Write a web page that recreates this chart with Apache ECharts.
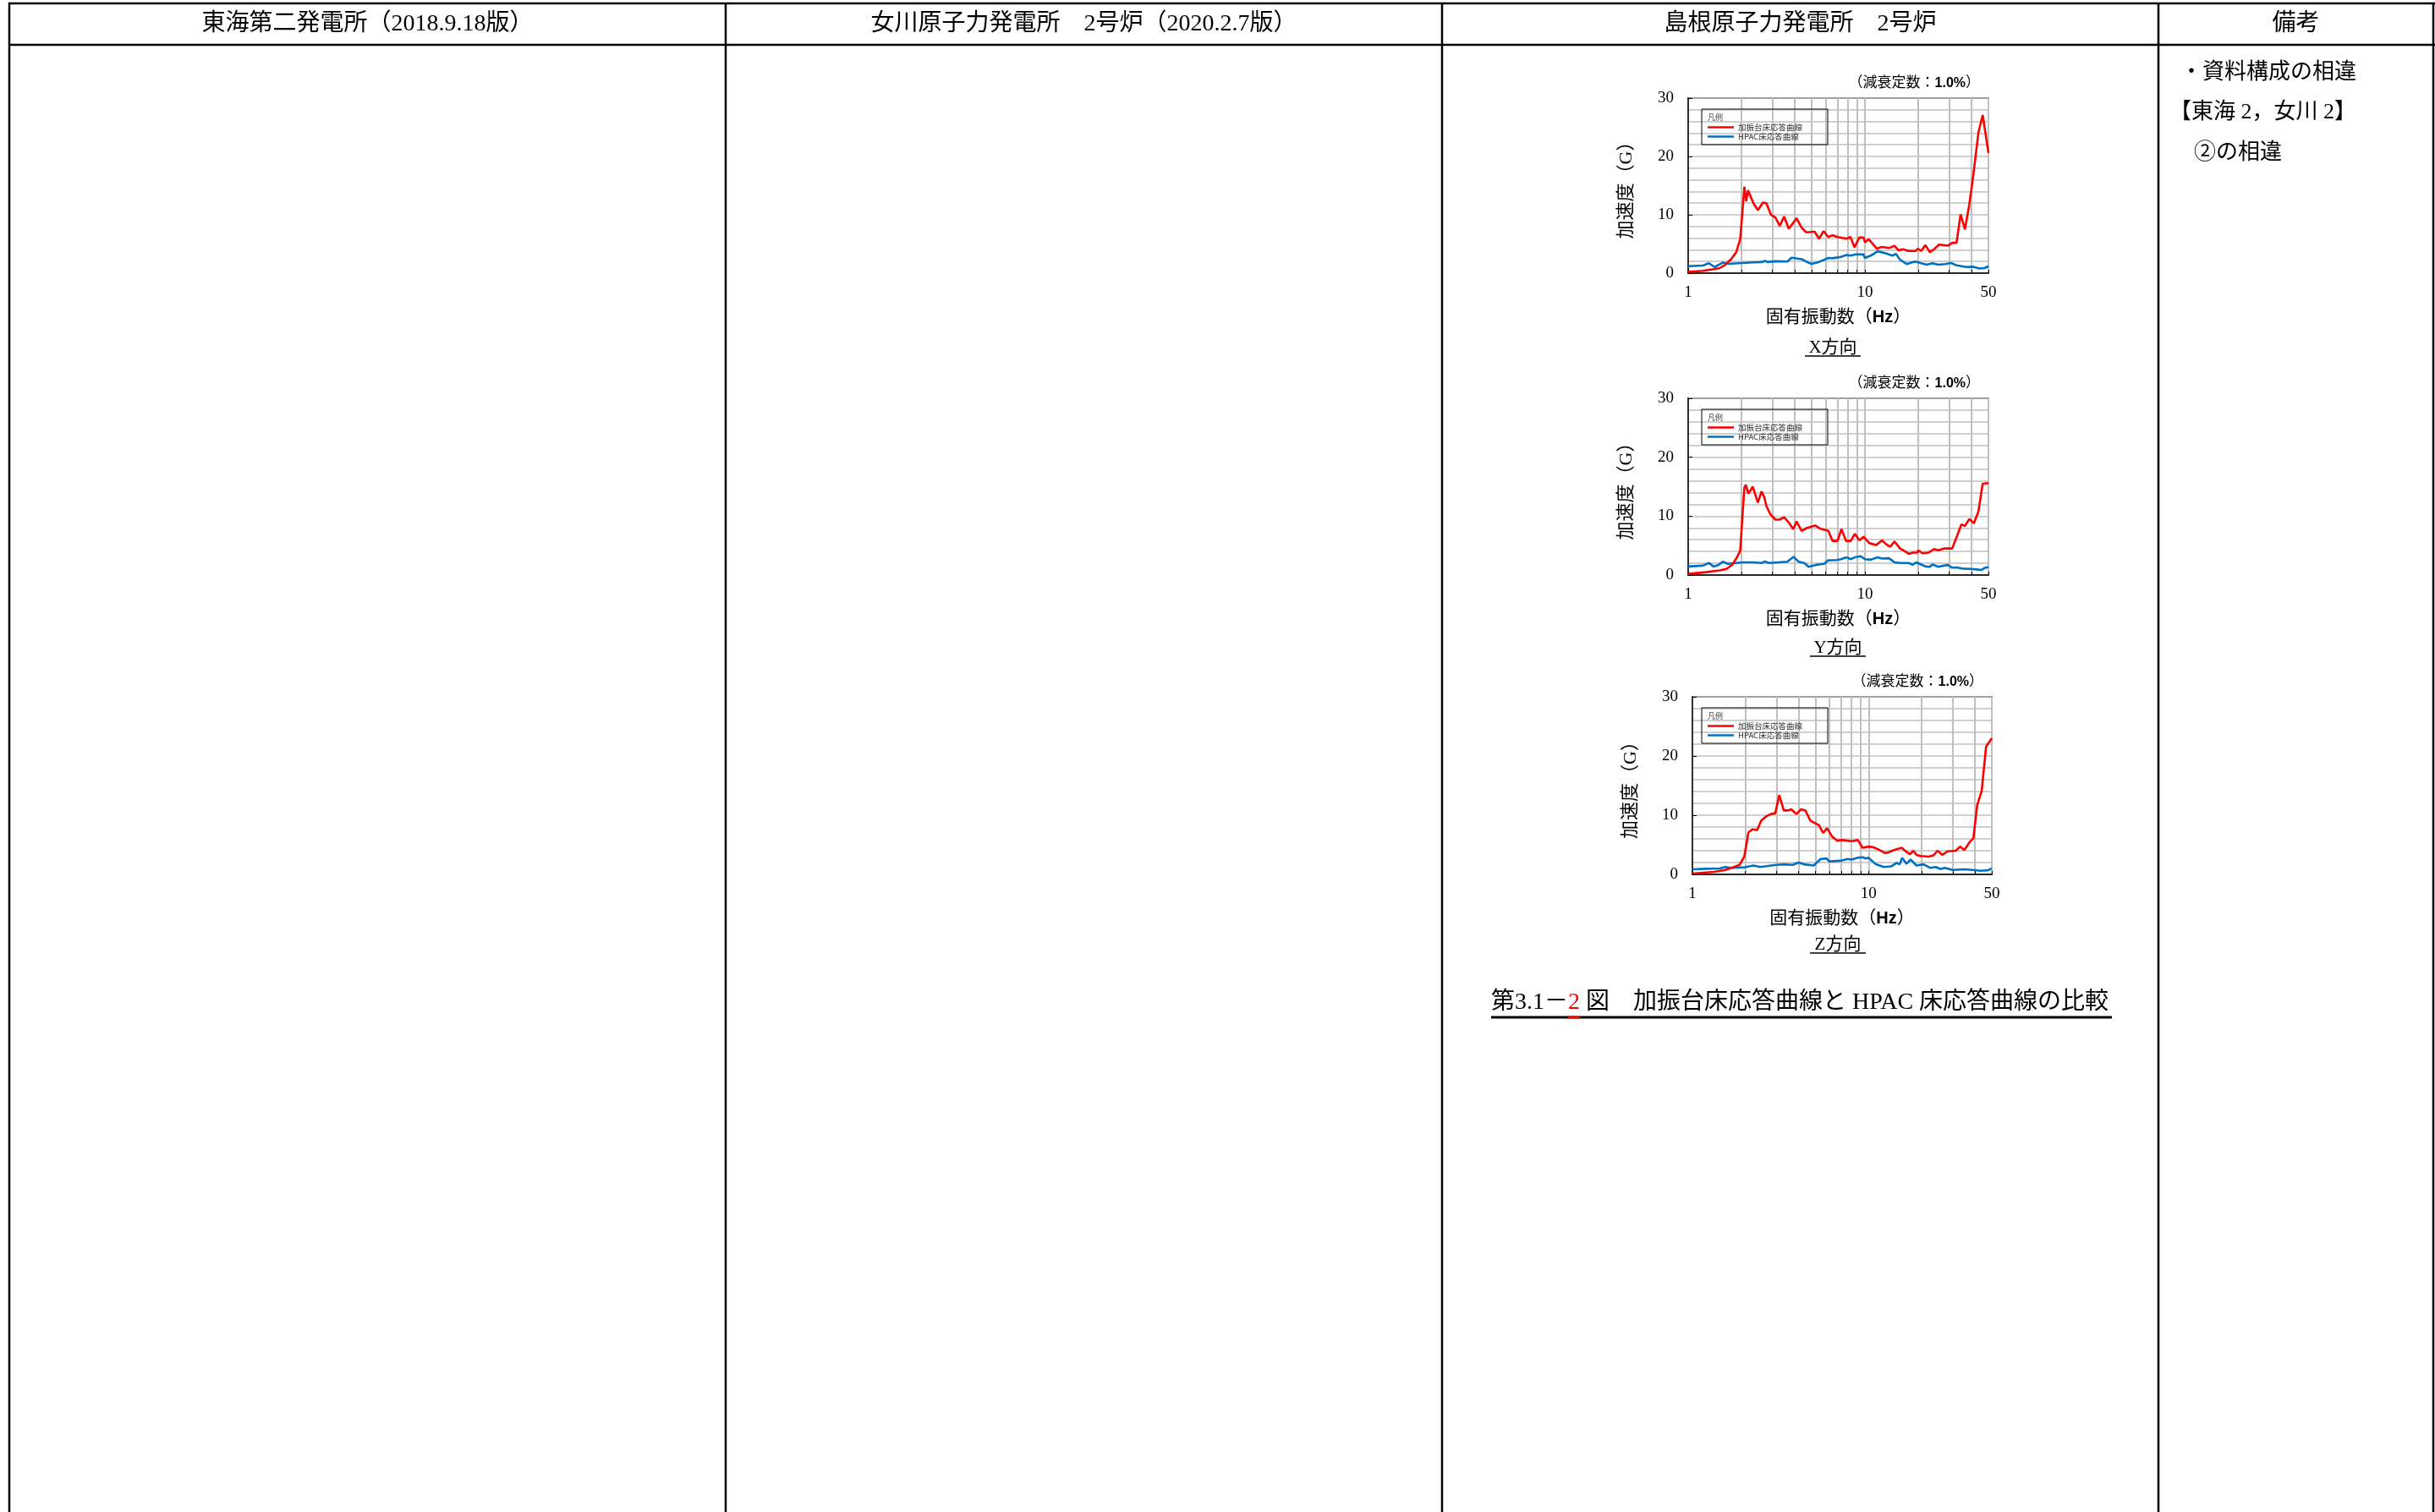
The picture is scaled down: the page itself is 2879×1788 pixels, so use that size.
<!DOCTYPE html>
<html>
<head>
<meta charset="utf-8">
<title>加振台床応答曲線とHPAC床応答曲線の比較</title>
<script src="https://cdn.jsdelivr.net/npm/echarts@6.0.0/dist/echarts.min.js"></script>
<style>
html, body { margin: 0; padding: 0; background: #fff; }
#main { width: 2879px; height: 1788px; }
</style>
</head>
<body>
<div id="main"></div>
<script>
// X方向
let xRedHz = [1, 1.21, 1.40, 1.51, 1.62, 1.75, 1.87, 1.97, 2.08, 2.13, 2.18, 2.34, 2.48, 2.65, 2.77, 2.94, 3.12, 3.30, 3.49, 3.71, 4.11, 4.38, 4.66, 5.20, 5.50, 5.83, 6.21, 6.56, 7.0, 7.88, 8.29, 8.73, 9.29, 9.82, 10, 10.5, 11.7, 12.5, 13.7, 14.7, 15.5, 16.4, 17.7, 19.4, 19.9, 20.8, 22.0, 23.3, 24.6, 26.3, 29.5, 31.2, 33.0, 34.8, 36.8, 38.9, 41.1, 43.9, 46.4, 50]
let xRedG = [0.2, 0.4, 0.7, 0.87, 1.44, 2.4, 3.6, 5.8, 14.8, 12.3, 14.2, 12.0, 10.8, 12.1, 12.0, 10.0, 9.5, 8.1, 9.7, 7.6, 9.4, 7.8, 7.0, 7.1, 5.9, 7.2, 6.2, 6.5, 6.2, 5.9, 6.2, 4.4, 6.1, 6.1, 5.3, 5.8, 4.2, 4.5, 4.3, 4.7, 3.9, 4.1, 3.8, 3.8, 4.2, 3.8, 4.8, 3.6, 4.1, 4.9, 4.7, 5.2, 5.2, 10.1, 7.5, 11.6, 16.9, 24.1, 27.1, 20.6]
let xBlueHz = [1, 1.21, 1.31, 1.41, 1.57, 1.68, 2.02, 2.34, 2.62, 2.71, 2.82, 3.14, 3.64, 3.85, 4.38, 4.71, 4.98, 5.36, 5.83, 6.21, 6.56, 7.32, 7.88, 8.31, 8.78, 9.82, 10, 10.8, 11.8, 13.1, 14.3, 15.0, 15.8, 17.3, 18.3, 19.3, 20.8, 22.4, 24.1, 26.0, 28.5, 30.7, 33.0, 37.5, 41.1, 44.3, 47.6, 50]
let xBlueG = [1.2, 1.3, 1.7, 1.05, 1.8, 1.6, 1.75, 1.85, 1.9, 2.1, 1.9, 2.05, 2.0, 2.65, 2.4, 1.9, 1.6, 1.8, 2.25, 2.6, 2.55, 2.8, 3.1, 3.0, 3.2, 3.2, 2.6, 3.0, 3.75, 3.4, 3.0, 3.3, 2.3, 1.55, 1.8, 2.0, 1.7, 1.45, 1.7, 1.45, 1.55, 1.75, 1.35, 1.05, 1.1, 0.8, 0.87, 1.2]

// Y方向
let yRedHz = [1, 1.26, 1.51, 1.65, 1.78, 1.88, 1.97, 2.02, 2.08, 2.12, 2.19, 2.32, 2.48, 2.60, 2.69, 2.77, 2.92, 3.12, 3.28, 3.49, 3.71, 3.93, 4.11, 4.38, 4.71, 5.22, 5.56, 6.21, 6.56, 7.0, 7.37, 7.82, 8.31, 8.78, 9.29, 9.82, 10.6, 11.6, 12.5, 13.1, 13.9, 14.7, 15.8, 16.7, 17.7, 18.7, 19.8, 20.0, 21.2, 22.9, 24.6, 26.0, 28.0, 31.2, 35.2, 36.8, 38.9, 41.4, 43.9, 46.4, 50]
let yRedG = [0.2, 0.48, 0.8, 1.05, 1.8, 2.9, 4.1, 9.3, 14.8, 15.3, 13.8, 15.0, 12.3, 14.2, 13.3, 11.7, 10.3, 9.4, 9.4, 9.8, 8.9, 7.8, 9.1, 7.5, 8.0, 8.4, 7.9, 7.5, 5.8, 5.8, 7.8, 5.8, 5.8, 7.0, 5.9, 6.5, 5.4, 5.1, 5.9, 5.3, 4.8, 5.7, 4.5, 4.1, 3.6, 3.8, 3.8, 4.2, 3.7, 3.8, 4.4, 4.2, 4.5, 4.5, 8.6, 8.3, 9.5, 8.8, 10.8, 15.5, 15.6]
let yBlueHz = [1, 1.21, 1.31, 1.39, 1.48, 1.57, 1.68, 2.02, 2.34, 2.62, 2.71, 2.87, 3.64, 3.95, 4.22, 4.54, 4.80, 5.36, 5.87, 6.21, 6.92, 7.32, 7.88, 8.31, 8.78, 9.46, 10, 10.8, 11.8, 12.5, 13.7, 14.7, 15.8, 17.7, 18.6, 19.5, 20.8, 22.0, 23.3, 24.1, 26.0, 28.0, 29.5, 31.2, 33.0, 35.5, 39.5, 42.8, 45.6, 47.6, 50]
let yBlueG = [1.45, 1.6, 2.05, 1.45, 1.7, 2.25, 1.9, 2.15, 2.15, 2.05, 2.3, 2.05, 2.25, 3.1, 2.25, 2.05, 1.4, 1.75, 1.9, 2.5, 2.55, 2.7, 3.0, 2.7, 3.0, 3.2, 2.7, 2.6, 3.0, 2.8, 2.85, 2.15, 2.05, 2.05, 1.75, 2.15, 1.8, 1.45, 1.4, 1.8, 1.4, 1.6, 1.7, 1.25, 1.3, 1.1, 1.05, 0.95, 0.85, 1.2, 1.35]

// Z方向
let zRedHz = [1, 1.33, 1.54, 1.72, 1.85, 1.97, 2.08, 2.19, 2.33, 2.46, 2.62, 2.79, 2.95, 3.11, 3.30, 3.49, 3.64, 3.89, 4.14, 4.38, 4.66, 4.94, 5.22, 5.52, 5.81, 6.2, 6.62, 7.06, 8.02, 8.69, 9.22, 10, 10.6, 11.4, 12.4, 12.9, 13.9, 15.4, 16.4, 17.2, 17.9, 18.7, 19.7, 22.0, 23.3, 24.6, 26.2, 28.0, 31.2, 33.0, 34.9, 37.3, 39.3, 41.3, 43.8, 46.4, 50]
let zRedG = [0.15, 0.43, 0.76, 1.24, 1.6, 3.0, 7.1, 7.6, 7.5, 9.1, 9.8, 10.2, 10.3, 13.4, 10.8, 10.8, 11.0, 10.2, 11.0, 10.8, 9.1, 8.7, 8.3, 7.0, 7.8, 6.4, 5.7, 5.8, 5.6, 5.8, 4.5, 4.7, 4.6, 4.2, 3.6, 3.7, 4.1, 4.5, 3.8, 3.4, 4.0, 3.3, 3.1, 3.0, 3.2, 4.0, 3.3, 3.9, 4.0, 4.7, 4.1, 5.4, 6.1, 11.7, 14.1, 21.6, 23.0]
let zBlueHz = [1, 1.19, 1.43, 1.54, 1.65, 1.99, 2.22, 2.43, 2.98, 3.32, 3.71, 4.0, 4.30, 4.88, 5.35, 5.77, 5.98, 6.93, 7.6, 8.02, 8.6, 9.28, 9.55, 10, 11.0, 12.2, 13.4, 14.4, 15.0, 15.5, 16.4, 17.3, 18.7, 20.5, 22.4, 24.1, 25.5, 27.0, 30.0, 34.9, 38.9, 43.3, 47.5, 50]
let zBlueG = [0.85, 0.95, 1.0, 1.25, 1.1, 1.2, 1.5, 1.25, 1.6, 1.7, 1.6, 2.0, 1.7, 1.5, 2.6, 2.7, 2.2, 2.3, 2.6, 2.5, 2.8, 2.9, 2.7, 2.8, 1.7, 1.25, 1.35, 1.95, 1.7, 2.8, 1.8, 2.5, 1.5, 1.7, 1.1, 1.25, 0.9, 1.1, 0.75, 0.85, 0.75, 0.6, 0.7, 1.0]

let xTickHz = [1, 2, 3, 4, 5, 6, 7, 8, 9, 10, 20, 30, 40, 50]
let xLabelHz = [1, 10, 50]
let seriesNames = ['加振台床応答曲線', 'HPAC床応答曲線']
let directions = ['X方向', 'Y方向', 'Z方向']
let headers = ['東海第二発電所（2018.9.18版）', '女川原子力発電所　2号炉（2020.2.7版）', '島根原子力発電所　2号炉', '備考']
let remarks = ['・資料構成の相違', '【東海 2，女川 2】', '②の相違']
let captionParts = ['第3.1－', '2', ' 図　加振台床応答曲線と HPAC 床応答曲線の比較']

const serif = '"Liberation Serif", "Noto Sans CJK JP"'
const jp = '"Noto Sans CJK JP"'
const gridColor = '#c0c0c0'

// 各グラフの配置
let grids = [
    {left: 1996, top: 116, width: 355, height: 207},
    {left: 1996, top: 471, width: 355, height: 209},
    {left: 2001, top: 824, width: 354, height: 210}
]
let dirPos = [[2167, 411], [2173, 766], [2173, 1117]]

function pairs(hz, g) {
    return hz.map(function (v, i) { return [v, g[i]] })
}

function measure(s, size, family) {
    let ctx = document.createElement('canvas').getContext('2d')
    ctx.font = size + 'px ' + family
    return ctx.measureText(s).width
}

function xAxisAt(i) {
    return {
        type: 'log', logBase: 10, gridIndex: i, min: 1, max: 50,
        name: '固有振動数（{b|Hz}）', nameLocation: 'middle', nameGap: 42,
        nameTextStyle: {
            fontSize: 21, fontFamily: serif, color: '#000',
            rich: {b: {fontSize: 20, fontFamily: '"Liberation Sans"', fontWeight: 'bold', color: '#000'}}
        },
        axisLine: {lineStyle: {color: '#000', width: 1.5}},
        axisTick: {show: true, inside: true, length: 4, customValues: xTickHz, lineStyle: {color: '#000'}},
        axisLabel: {customValues: xLabelHz, fontSize: 19, fontFamily: serif, color: '#000', margin: 14},
        splitLine: {show: true, lineStyle: {color: gridColor, width: 2}},
        minorTick: {show: false}
    }
}

function yAxisAt(i) {
    return {
        type: 'value', gridIndex: i, min: 0, max: 30, interval: 10,
        name: '加速度（G）', nameLocation: 'middle', nameGap: 62,
        nameTextStyle: {fontSize: 22, fontFamily: serif, color: '#000'},
        axisLine: {show: true, lineStyle: {color: '#000', width: 1.5}},
        axisTick: {show: true, inside: true, length: 5, lineStyle: {color: '#000'}},
        axisLabel: {fontSize: 19, fontFamily: serif, color: '#000', margin: 17},
        splitLine: {show: true, lineStyle: {color: gridColor, width: 1.5}},
        minorTick: {show: false, splitNumber: 5},
        minorSplitLine: {show: true, lineStyle: {color: gridColor, width: 1.5}}
    }
}

function legendAt(i) {
    return {
        left: grids[i].left + 16 - (i === 2 ? 5 : 0), top: grids[i].top + 13, orient: 'vertical',
        data: seriesNames,
        icon: 'rect', itemWidth: 31, itemHeight: 2.5, itemGap: 0,
        padding: [16, 30, 4, 7],
        borderColor: '#000', borderWidth: 1,
        textStyle: {fontSize: 9.5, lineHeight: 11, fontFamily: jp, color: '#333'},
        selectedMode: false
    }
}

function lineSeries(i, name, hz, g, color) {
    return {
        type: 'line', name: name, xAxisIndex: i, yAxisIndex: i,
        data: pairs(hz, g), symbol: 'none',
        lineStyle: {color: color, width: 2.6}, itemStyle: {color: color}
    }
}

function txt(text, x, y, size, align, extra) {
    let el = {
        type: 'text', z: 10,
        style: {
            text: text, x: x, y: y, fontSize: size, fontFamily: serif, fill: '#000',
            align: align, textAlign: align, verticalAlign: 'middle', textVerticalAlign: 'middle'
        }
    }
    if (extra) Object.assign(el.style, extra)
    return el
}

function line(x1, y1, x2, y2, w, color) {
    return {type: 'line', z: 10, shape: {x1: x1, y1: y1, x2: x2, y2: y2}, style: {stroke: color || '#000', lineWidth: w}}
}

function buildGraphic() {
    let g = []
    // 表の罫線
    g.push(line(10, 4, 2879, 4, 2.5))
    g.push(line(10, 53, 2879, 53, 2.5))
    let cols = [11, 858, 1705, 2552, 2877]
    for (let i = 0; i < cols.length; i++) {
        g.push(line(cols[i], 3, cols[i], 1788, 2.5))
    }
    for (let i = 0; i < headers.length; i++) {
        g.push(txt(headers[i], (cols[i] + cols[i + 1]) / 2, 29, 28, 'center'))
    }
    // 備考欄
    g.push(txt(remarks[0], 2578, 86, 26, 'left'))
    g.push(txt(remarks[1], 2565, 133, 26, 'left'))
    g.push(txt(remarks[2], 2594, 181, 26, 'left'))
    // 各グラフの注記
    for (let i = 0; i < 3; i++) {
        let gr = grids[i]
        g.push(txt('{n|（減衰定数：}{b|1.0%}{n|）}', gr.left + gr.width - 10, gr.top - 17, 17, 'right', {
            rich: {
                n: {fontSize: 17, fontFamily: serif, fill: '#000'},
                b: {fontSize: 16, fontFamily: '"Liberation Sans"', fontWeight: 'bold', fill: '#000'}
            }
        }))
        g.push(txt('凡例', gr.left + 23 - (i === 2 ? 5 : 0), gr.top + 23, 9, 'left', {fontFamily: jp, fill: '#444'}))
        let d = dirPos[i]
        g.push(txt(directions[i], d[0], d[1], 21, 'center'))
        g.push(line(d[0] - 33, d[1] + 10, d[0] + 33, d[1] + 10, 1.5))
    }
    // 図番号（下線付き、番号のみ赤）
    let cx = 1763, cy = 1186, cs = 28
    let w1 = measure(captionParts[0], cs, serif)
    let w2 = measure(captionParts[1], cs, serif)
    g.push(txt(captionParts[0], cx, cy, cs, 'left'))
    g.push(txt(captionParts[1], cx + w1, cy, cs, 'left', {fill: '#f00'}))
    g.push(txt(captionParts[2], cx + w1 + w2, cy, cs, 'left'))
    g.push(line(cx, 1203, 2497, 1203, 3))
    g.push(line(cx + w1, 1203, cx + w1 + w2, 1203, 3, '#f00'))
    return g
}

let chart = echarts.init(document.getElementById('main'))
let option = {
    animation: false,
    backgroundColor: '#fff',
    grid: grids.map(function (gr) {
        return Object.assign({show: true, borderColor: '#000', borderWidth: 1.5, backgroundColor: 'transparent', containLabel: false}, gr)
    }),
    xAxis: [xAxisAt(0), xAxisAt(1), xAxisAt(2)],
    yAxis: [yAxisAt(0), yAxisAt(1), yAxisAt(2)],
    legend: [legendAt(0), legendAt(1), legendAt(2)],
    series: [
        lineSeries(0, seriesNames[1], xBlueHz, xBlueG, '#0070c0'),
        lineSeries(0, seriesNames[0], xRedHz, xRedG, '#ff0000'),
        lineSeries(1, seriesNames[1], yBlueHz, yBlueG, '#0070c0'),
        lineSeries(1, seriesNames[0], yRedHz, yRedG, '#ff0000'),
        lineSeries(2, seriesNames[1], zBlueHz, zBlueG, '#0070c0'),
        lineSeries(2, seriesNames[0], zRedHz, zRedG, '#ff0000')
    ],
    graphic: buildGraphic()
}
chart.setOption(option)
</script>
</body>
</html>
